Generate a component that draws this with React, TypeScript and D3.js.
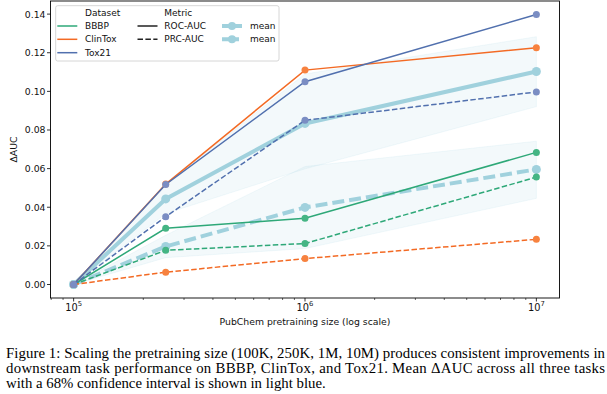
import React from "react";
import { scaleLog, scaleLinear, line as d3_line, area as d3_area } from "d3";

// pretraining sizes (x) and per-dataset ΔAUC
const sizes = [1e5, 2.5e5, 1e6, 1e7];
const datasetNames = ["BBBP", "ClinTox", "Tox21"];
const datasetColors = ["#2ea878", "#f36a24", "#5170ae"];
const markerColors = ["#45b584", "#f7823f", "#7a8dc3"];

const bbbpRoc = [0, 0.0291, 0.0343, 0.0684];
const bbbpPrc = [0, 0.0177, 0.0212, 0.0556];
const clintoxRoc = [0, 0.052, 0.111, 0.1226];
const clintoxPrc = [0, 0.0064, 0.0134, 0.0234];
const tox21Roc = [0, 0.0518, 0.105, 0.1398];
const tox21Prc = [0, 0.0351, 0.085, 0.0997];

// mean across the three tasks and its 68% CI
const rocMean = [0, 0.0443, 0.0834, 0.1103];
const prcMean = [0, 0.0197, 0.0399, 0.0596];
const rocCiLow = [0, 0.0367, 0.0599, 0.0921];
const rocCiHigh = [0, 0.0519, 0.109, 0.1283];
const prcCiLow = [0, 0.0139, 0.0186, 0.0446];
const prcCiHigh = [0, 0.0255, 0.0611, 0.0742];

const yTicks = [0, 0.02, 0.04, 0.06, 0.08, 0.1, 0.12, 0.14];
const xTicks = [1e5, 1e6, 1e7];
const xTickExps = ["5", "6", "7"];

const captionLines = [
    "Figure 1: Scaling the pretraining size (100K, 250K, 1M, 10M) produces consistent improvements in",
    "downstream task performance on BBBP, ClinTox, and Tox21. Mean \u0394AUC across all three tasks",
    "with a 68% confidence interval is shown in light blue.",
];

const meanColor = "#a0d1dd";
const bandColor = "#add8e6";
const sans = "'DejaVu Sans', sans-serif";

const W = 607;
const H = 394;

export default function App() {
    const left = 50.5, right = 559.5, top = 1, bottom = 298;

    const x = scaleLog().domain([Math.pow(10, 4.9), Math.pow(10, 7.1)]).range([left, right]);
    const y = scaleLinear().domain([-0.00699, 0.14679]).range([bottom, top]);

    const series = [
        { vals: [bbbpRoc, bbbpPrc], i: 0 },
        { vals: [clintoxRoc, clintoxPrc], i: 1 },
        { vals: [tox21Roc, tox21Prc], i: 2 },
    ];

    const line = d3_line<number>()
        .x((_, i) => x(sizes[i]))
        .y((d) => y(d));

    const band = (lo: number[], hi: number[]) =>
        d3_area<number>()
            .x((_, i) => x(sizes[i]))
            .y0((_, i) => y(lo[i]))
            .y1((_, i) => y(hi[i]))(lo) ?? "";

    const minorTicks: number[] = [];
    for (let e = 4; e <= 6; e++) {
        for (let m = 2; m <= 9; m++) {
            const v = m * Math.pow(10, e);
            if (x(v) >= left && x(v) <= right) minorTicks.push(v);
        }
    }

    // legend layout
    const lgRows = [12.7, 26, 39.3, 52.7];

    return (
        <svg
            width={W}
            height={H}
            style={{ position: "absolute", left: 0, top: 0, background: "#fff" }}
            fontFamily={sans}
        >
            {/* CI bands */}
            {[
                [rocCiLow, rocCiHigh],
                [prcCiLow, prcCiHigh],
            ].map(([lo, hi], k) => (
                <path
                    key={k}
                    d={band(lo, hi)}
                    fill={bandColor}
                    fillOpacity={0.14}
                    stroke={bandColor}
                    strokeOpacity={0.2}
                    strokeWidth={0.8}
                />
            ))}

            {/* means */}
            <path d={line(rocMean) ?? ""} fill="none" stroke={meanColor} strokeWidth={4} />
            <path
                d={line(prcMean) ?? ""}
                fill="none"
                stroke={meanColor}
                strokeWidth={4}
                strokeDasharray="12,5"
            />
            {[rocMean, prcMean].map((vals, k) =>
                vals.map((v, i) => (
                    <circle key={`m${k}-${i}`} cx={x(sizes[i])} cy={y(v)} r={4.5} fill={meanColor} />
                ))
            )}

            {/* datasets */}
            {series.map((s) =>
                s.vals.map((vals, k) => (
                    <g key={`${s.i}-${k}`}>
                        <path
                            d={line(vals) ?? ""}
                            fill="none"
                            stroke={datasetColors[s.i]}
                            strokeWidth={1.5}
                            strokeDasharray={k === 1 ? "5.5,2.4" : undefined}
                        />
                        {vals.map((v, i) => (
                            <circle
                                key={i}
                                cx={x(sizes[i])}
                                cy={y(v)}
                                r={3.5}
                                fill={markerColors[s.i]}
                            />
                        ))}
                    </g>
                ))
            )}

            {/* frame */}
            <rect
                x={left}
                y={top}
                width={right - left}
                height={bottom - top}
                fill="none"
                stroke="#000"
                strokeWidth={0.9}
            />

            {/* y axis */}
            {yTicks.map((t) => (
                <g key={t} transform={`translate(0,${y(t)})`}>
                    <line x1={left - 3.5} x2={left} stroke="#000" strokeWidth={0.8} />
                    <text
                        x={left - 5}
                        textAnchor="end"
                        dominantBaseline="central"
                        fontSize={9.3}
                        fill="#111"
                    >
                        {t.toFixed(2)}
                    </text>
                </g>
            ))}
            <text
                transform={`translate(17,${(top + bottom) / 2}) rotate(-90)`}
                textAnchor="middle"
                fontSize={9.3}
                fill="#111"
            >
                {"\u0394AUC"}
            </text>

            {/* x axis */}
            {minorTicks.map((t) => (
                <line
                    key={t}
                    x1={x(t)}
                    x2={x(t)}
                    y1={bottom}
                    y2={bottom + 2}
                    stroke="#000"
                    strokeWidth={0.6}
                />
            ))}
            {xTicks.map((t, i) => (
                <g key={t} transform={`translate(${x(t)},${bottom})`}>
                    <line y1={0} y2={3.5} stroke="#000" strokeWidth={0.8} />
                    <text y={12.5} textAnchor="middle" fontSize={9.8} fill="#111">
                        10
                        <tspan dy={-4.5} fontSize={6.8}>
                            {xTickExps[i]}
                        </tspan>
                    </text>
                </g>
            ))}
            <text
                x={(left + right) / 2}
                y={325}
                textAnchor="middle"
                fontSize={9.3}
                fill="#111"
            >
                PubChem pretraining size (log scale)
            </text>

            {/* legend */}
            <rect
                x={55.7}
                y={5.7}
                width={223.3}
                height={55.3}
                rx={2}
                fill="#fff"
                fillOpacity={0.8}
                stroke="#cccccc"
                strokeWidth={0.8}
            />
            <g fontSize={9} fill="#111">
                <text x={85} y={lgRows[0]} dominantBaseline="central">Dataset</text>
                {datasetNames.map((n, i) => (
                    <g key={n}>
                        <line
                            x1={57.3}
                            x2={77.3}
                            y1={lgRows[i + 1]}
                            y2={lgRows[i + 1]}
                            stroke={datasetColors[i]}
                            strokeWidth={1.5}
                        />
                        <text x={85} y={lgRows[i + 1]} dominantBaseline="central">
                            {n}
                        </text>
                    </g>
                ))}
                <text x={164.3} y={lgRows[0]} dominantBaseline="central">Metric</text>
                {["ROC-AUC", "PRC-AUC"].map((n, i) => (
                    <g key={n}>
                        <line
                            x1={137.5}
                            x2={157.5}
                            y1={lgRows[i + 1]}
                            y2={lgRows[i + 1]}
                            stroke="#222"
                            strokeWidth={1.5}
                            strokeDasharray={i === 1 ? "5.5,2.4" : undefined}
                        />
                        <text x={164.3} y={lgRows[i + 1]} dominantBaseline="central">
                            {n}
                        </text>
                    </g>
                ))}
                {[0, 1].map((i) => (
                    <g key={i}>
                        <line
                            x1={222}
                            x2={242}
                            y1={lgRows[i + 1]}
                            y2={lgRows[i + 1]}
                            stroke={meanColor}
                            strokeWidth={4}
                            strokeDasharray={i === 1 ? "7,3" : undefined}
                        />
                        <circle cx={232} cy={lgRows[i + 1]} r={4} fill={meanColor} />
                        <text x={250} y={lgRows[i + 1]} dominantBaseline="central">
                            mean
                        </text>
                    </g>
                ))}
            </g>

            {/* caption */}
            <g fontFamily="'Liberation Serif', 'Times New Roman', serif" fontSize={14.8} fill="#000">
                {captionLines.map((t, i) => (
                    <text
                        key={i}
                        x={6}
                        y={358 + i * 15.2}
                        textLength={i < 2 ? 599 : undefined}
                        lengthAdjust="spacing"
                    >
                        {t}
                    </text>
                ))}
            </g>
        </svg>
    );
}
